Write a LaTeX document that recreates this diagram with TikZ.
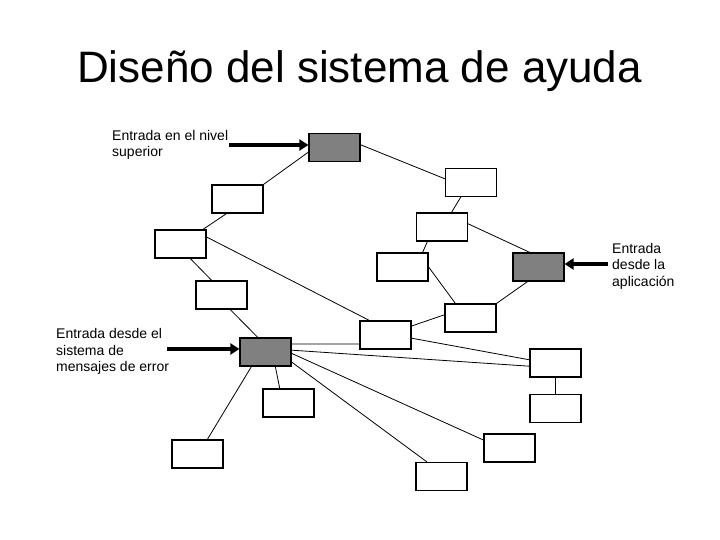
\documentclass[tikz,border=0pt]{standalone}
\usepackage{fontspec}
\setmainfont{Liberation Sans}
\usetikzlibrary{arrows.meta}
\definecolor{gris}{RGB}{128,128,128}

\tikzset{
  caja/.style={draw, line width=1.2pt, minimum width=51pt, minimum height=28pt, inner sep=0pt, fill=white},
  cajagris/.style={caja, fill=gris},
  enlace/.style={line width=0.8pt},
  entrada/.style={line width=3.5pt, -{Triangle[length=9pt,width=11pt]}},
  nota/.style={align=left, font=\fontsize{14}{16.5}\selectfont, inner sep=0pt, anchor=base west}
}

\begin{document}
\begin{tikzpicture}[x=1pt,y=-1pt]
        \useasboundingbox (0,0) rectangle (720,540);
        %titulo
        \node[font=\fontsize{44}{50}\selectfont, anchor=base] (titulo) at (359.5,82.3) {Diseño del sistema de ayuda};
        %cajas de entrada
        \node[cajagris] (gt) at (334.5,147.5) {};
        \node[cajagris] (gr) at (538.5,267) {};
        \node[cajagris] (gl) at (265.5,352) {};
        %cajas
        \node[caja] (a) at (237.5,199) {};
        \node[caja] (b) at (180.5,244) {};
        \node[caja] (c) at (221.5,295) {};
        \node[caja] (d) at (471,182.5) {};
        \node[caja] (e) at (442,227) {};
        \node[caja] (f) at (402.5,267) {};
        \node[caja] (g) at (470.5,318) {};
        \node[caja] (h) at (385.5,335) {};
        \node[caja] (i) at (555.5,363) {};
        \node[caja] (j) at (555.5,408.5) {};
        \node[caja] (k) at (288.5,403) {};
        \node[caja] (l) at (197.5,454) {};
        \node[caja] (m) at (509.5,448) {};
        \node[caja] (n) at (441.5,476.5) {};
        %enlaces
        \draw[enlace] (gt.190) -- (a.north east);
        \draw[enlace] (gt.6) -- (d.172);
        \draw[enlace] (a.233) -- (b.33);
        \draw[enlace] (b.15) -- (h.138);
        \draw[enlace] (b.304) -- (c.124);
        \draw[enlace] (c.301) -- (gl.118);
        \draw[enlace] (d.235) -- (e.57);
        \draw[enlace] (e.225) -- (f.36);
        \draw[enlace] (e.7) -- (gr.121);
        \draw[enlace] (f.east) -- (g.136);
        \draw[enlace] (gr.233) -- (g.north east);
        \draw[enlace] (g.173) -- (h.19);
        \draw[enlace] (h.353) -- (i.173);
        \draw[enlace] (gl.17) -- (h.199);
        \draw[enlace] (gl.4) -- (i.187);
        \draw[enlace] (gl.357) -- (m.163);
        \draw[enlace] (gl.339) -- (n.135);
        \draw[enlace] (gl.304) -- (k.121);
        \draw[enlace] (gl.226) -- (l.56);
        \draw[enlace] (i.south) -- (j.north);
        %textos (anclados en la linea base de la ultima linea)
        \node[nota] (txtsup) at (112,157) {Entrada en el nivel\\superior};
        \node[nota] (txtapp) at (612,286) {Entrada\\desde la\\aplicación};
        \node[nota] (txterr) at (56,371.7) {Entrada desde el\\sistema de\\mensajes de error};
        %flechas de entrada
        \coordinate (insup) at (229,145);
        \draw[entrada] (insup) -- (insup -| gt.west);
        \coordinate (inapp) at (608,264);
        \draw[entrada] (inapp) -- (inapp -| gr.east);
        \coordinate (inerr) at (167,349);
        \draw[entrada] (inerr) -- (inerr -| gl.west);
\end{tikzpicture}
\end{document}
